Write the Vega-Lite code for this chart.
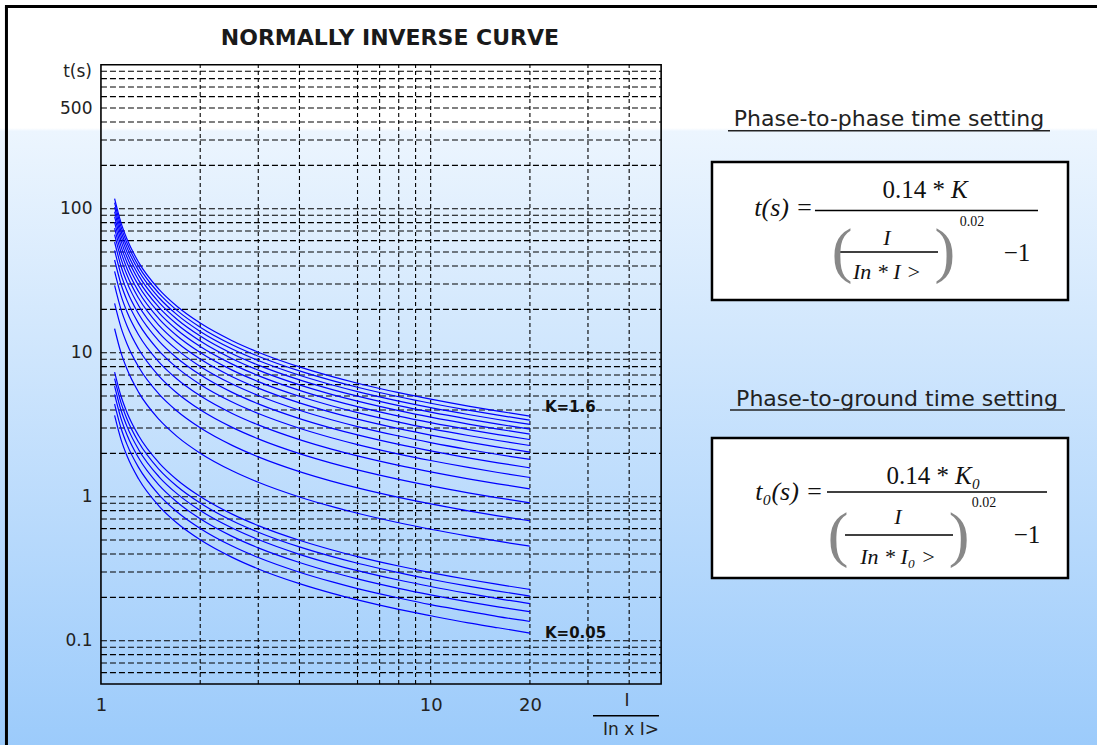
{
"$schema": "https://vega.github.io/schema/vega-lite/v6.json",
"width": 1097, "height": 745,
"autosize": {"type": "none"},
"padding": 0,
"background": "#ffffff",
"config": {"view": {"stroke": null, "fill": {"gradient": "linear", "x1": 0, "y1": 0, "x2": 0, "y2": 1, "stops": [{"offset": 0, "color": "#ffffff"}, {"offset": 0.172, "color": "#ffffff"}, {"offset": 0.176, "color": "#ecf5fe"}, {"offset": 1, "color": "#9ccbfb"}]}}},
"datasets": {
"curves": [
{"K":1.6,"I":1.1,"t":117.4},{"K":1.6,"I":1.15,"t":80.02},{"K":1.6,"I":1.2,"t":61.32},{"K":1.6,"I":1.3,"t":42.58},{"K":1.6,"I":1.5,"t":27.51},{"K":1.6,"I":1.7,"t":21.0},{"K":1.6,"I":2,"t":16.05},{"K":1.6,"I":2.5,"t":12.11},{"K":1.6,"I":3,"t":10.08},{"K":1.6,"I":4,"t":7.968},{"K":1.6,"I":5,"t":6.848},{"K":1.6,"I":6,"t":6.139},{"K":1.6,"I":8,"t":5.275},{"K":1.6,"I":10,"t":4.754},{"K":1.6,"I":13,"t":4.256},{"K":1.6,"I":16,"t":3.928},{"K":1.6,"I":20,"t":3.628},
{"K":1.5,"I":1.1,"t":110.1},{"K":1.5,"I":1.15,"t":75.02},{"K":1.5,"I":1.2,"t":57.49},{"K":1.5,"I":1.3,"t":39.92},{"K":1.5,"I":1.5,"t":25.79},{"K":1.5,"I":1.7,"t":19.68},{"K":1.5,"I":2,"t":15.04},{"K":1.5,"I":2.5,"t":11.36},{"K":1.5,"I":3,"t":9.453},{"K":1.5,"I":4,"t":7.47},{"K":1.5,"I":5,"t":6.42},{"K":1.5,"I":6,"t":5.756},{"K":1.5,"I":8,"t":4.946},{"K":1.5,"I":10,"t":4.457},{"K":1.5,"I":13,"t":3.99},{"K":1.5,"I":16,"t":3.683},{"K":1.5,"I":20,"t":3.401},
{"K":1.4,"I":1.1,"t":102.7},{"K":1.4,"I":1.15,"t":70.01},{"K":1.4,"I":1.2,"t":53.65},{"K":1.4,"I":1.3,"t":37.25},{"K":1.4,"I":1.5,"t":24.07},{"K":1.4,"I":1.7,"t":18.37},{"K":1.4,"I":2,"t":14.04},{"K":1.4,"I":2.5,"t":10.6},{"K":1.4,"I":3,"t":8.823},{"K":1.4,"I":4,"t":6.972},{"K":1.4,"I":5,"t":5.992},{"K":1.4,"I":6,"t":5.372},{"K":1.4,"I":8,"t":4.616},{"K":1.4,"I":10,"t":4.159},{"K":1.4,"I":13,"t":3.724},{"K":1.4,"I":16,"t":3.437},{"K":1.4,"I":20,"t":3.174},
{"K":1.3,"I":1.1,"t":95.38},{"K":1.3,"I":1.15,"t":65.01},{"K":1.3,"I":1.2,"t":49.82},{"K":1.3,"I":1.3,"t":34.59},{"K":1.3,"I":1.5,"t":22.35},{"K":1.3,"I":1.7,"t":17.06},{"K":1.3,"I":2,"t":13.04},{"K":1.3,"I":2.5,"t":9.841},{"K":1.3,"I":3,"t":8.193},{"K":1.3,"I":4,"t":6.474},{"K":1.3,"I":5,"t":5.564},{"K":1.3,"I":6,"t":4.988},{"K":1.3,"I":8,"t":4.286},{"K":1.3,"I":10,"t":3.862},{"K":1.3,"I":13,"t":3.458},{"K":1.3,"I":16,"t":3.192},{"K":1.3,"I":20,"t":2.947},
{"K":1.2,"I":1.1,"t":88.04},{"K":1.2,"I":1.15,"t":60.01},{"K":1.2,"I":1.2,"t":45.98},{"K":1.2,"I":1.3,"t":31.93},{"K":1.2,"I":1.5,"t":20.63},{"K":1.2,"I":1.7,"t":15.74},{"K":1.2,"I":2,"t":12.04},{"K":1.2,"I":2.5,"t":9.084},{"K":1.2,"I":3,"t":7.562},{"K":1.2,"I":4,"t":5.976},{"K":1.2,"I":5,"t":5.136},{"K":1.2,"I":6,"t":4.604},{"K":1.2,"I":8,"t":3.956},{"K":1.2,"I":10,"t":3.565},{"K":1.2,"I":13,"t":3.192},{"K":1.2,"I":16,"t":2.946},{"K":1.2,"I":20,"t":2.72},
{"K":1.1,"I":1.1,"t":80.71},{"K":1.1,"I":1.15,"t":55.01},{"K":1.1,"I":1.2,"t":42.15},{"K":1.1,"I":1.3,"t":29.27},{"K":1.1,"I":1.5,"t":18.91},{"K":1.1,"I":1.7,"t":14.43},{"K":1.1,"I":2,"t":11.03},{"K":1.1,"I":2.5,"t":8.327},{"K":1.1,"I":3,"t":6.932},{"K":1.1,"I":4,"t":5.478},{"K":1.1,"I":5,"t":4.708},{"K":1.1,"I":6,"t":4.221},{"K":1.1,"I":8,"t":3.627},{"K":1.1,"I":10,"t":3.268},{"K":1.1,"I":13,"t":2.926},{"K":1.1,"I":16,"t":2.701},{"K":1.1,"I":20,"t":2.494},
{"K":1.0,"I":1.1,"t":73.37},{"K":1.0,"I":1.15,"t":50.01},{"K":1.0,"I":1.2,"t":38.32},{"K":1.0,"I":1.3,"t":26.61},{"K":1.0,"I":1.5,"t":17.19},{"K":1.0,"I":1.7,"t":13.12},{"K":1.0,"I":2,"t":10.03},{"K":1.0,"I":2.5,"t":7.57},{"K":1.0,"I":3,"t":6.302},{"K":1.0,"I":4,"t":4.98},{"K":1.0,"I":5,"t":4.28},{"K":1.0,"I":6,"t":3.837},{"K":1.0,"I":8,"t":3.297},{"K":1.0,"I":10,"t":2.971},{"K":1.0,"I":13,"t":2.66},{"K":1.0,"I":16,"t":2.455},{"K":1.0,"I":20,"t":2.267},
{"K":0.9,"I":1.1,"t":66.03},{"K":0.9,"I":1.15,"t":45.01},{"K":0.9,"I":1.2,"t":34.49},{"K":0.9,"I":1.3,"t":23.95},{"K":0.9,"I":1.5,"t":15.47},{"K":0.9,"I":1.7,"t":11.81},{"K":0.9,"I":2,"t":9.027},{"K":0.9,"I":2.5,"t":6.813},{"K":0.9,"I":3,"t":5.672},{"K":0.9,"I":4,"t":4.482},{"K":0.9,"I":5,"t":3.852},{"K":0.9,"I":6,"t":3.453},{"K":0.9,"I":8,"t":2.967},{"K":0.9,"I":10,"t":2.674},{"K":0.9,"I":13,"t":2.394},{"K":0.9,"I":16,"t":2.21},{"K":0.9,"I":20,"t":2.04},
{"K":0.8,"I":1.1,"t":58.7},{"K":0.8,"I":1.15,"t":40.01},{"K":0.8,"I":1.2,"t":30.66},{"K":0.8,"I":1.3,"t":21.29},{"K":0.8,"I":1.5,"t":13.75},{"K":0.8,"I":1.7,"t":10.5},{"K":0.8,"I":2,"t":8.024},{"K":0.8,"I":2.5,"t":6.056},{"K":0.8,"I":3,"t":5.042},{"K":0.8,"I":4,"t":3.984},{"K":0.8,"I":5,"t":3.424},{"K":0.8,"I":6,"t":3.07},{"K":0.8,"I":8,"t":2.638},{"K":0.8,"I":10,"t":2.377},{"K":0.8,"I":13,"t":2.128},{"K":0.8,"I":16,"t":1.964},{"K":0.8,"I":20,"t":1.814},
{"K":0.7,"I":1.1,"t":51.36},{"K":0.7,"I":1.15,"t":35.01},{"K":0.7,"I":1.2,"t":26.82},{"K":0.7,"I":1.3,"t":18.63},{"K":0.7,"I":1.5,"t":12.03},{"K":0.7,"I":1.7,"t":9.184},{"K":0.7,"I":2,"t":7.021},{"K":0.7,"I":2.5,"t":5.299},{"K":0.7,"I":3,"t":4.411},{"K":0.7,"I":4,"t":3.486},{"K":0.7,"I":5,"t":2.996},{"K":0.7,"I":6,"t":2.686},{"K":0.7,"I":8,"t":2.308},{"K":0.7,"I":10,"t":2.08},{"K":0.7,"I":13,"t":1.862},{"K":0.7,"I":16,"t":1.719},{"K":0.7,"I":20,"t":1.587},
{"K":0.6,"I":1.1,"t":44.02},{"K":0.6,"I":1.15,"t":30.01},{"K":0.6,"I":1.2,"t":22.99},{"K":0.6,"I":1.3,"t":15.97},{"K":0.6,"I":1.5,"t":10.31},{"K":0.6,"I":1.7,"t":7.872},{"K":0.6,"I":2,"t":6.018},{"K":0.6,"I":2.5,"t":4.542},{"K":0.6,"I":3,"t":3.781},{"K":0.6,"I":4,"t":2.988},{"K":0.6,"I":5,"t":2.568},{"K":0.6,"I":6,"t":2.302},{"K":0.6,"I":8,"t":1.978},{"K":0.6,"I":10,"t":1.783},{"K":0.6,"I":13,"t":1.596},{"K":0.6,"I":16,"t":1.473},{"K":0.6,"I":20,"t":1.36},
{"K":0.5,"I":1.1,"t":36.69},{"K":0.5,"I":1.15,"t":25.01},{"K":0.5,"I":1.2,"t":19.16},{"K":0.5,"I":1.3,"t":13.31},{"K":0.5,"I":1.5,"t":8.595},{"K":0.5,"I":1.7,"t":6.56},{"K":0.5,"I":2,"t":5.015},{"K":0.5,"I":2.5,"t":3.785},{"K":0.5,"I":3,"t":3.151},{"K":0.5,"I":4,"t":2.49},{"K":0.5,"I":5,"t":2.14},{"K":0.5,"I":6,"t":1.919},{"K":0.5,"I":8,"t":1.649},{"K":0.5,"I":10,"t":1.486},{"K":0.5,"I":13,"t":1.33},{"K":0.5,"I":16,"t":1.228},{"K":0.5,"I":20,"t":1.134},
{"K":0.4,"I":1.1,"t":29.35},{"K":0.4,"I":1.15,"t":20.0},{"K":0.4,"I":1.2,"t":15.33},{"K":0.4,"I":1.3,"t":10.64},{"K":0.4,"I":1.5,"t":6.876},{"K":0.4,"I":1.7,"t":5.248},{"K":0.4,"I":2,"t":4.012},{"K":0.4,"I":2.5,"t":3.028},{"K":0.4,"I":3,"t":2.521},{"K":0.4,"I":4,"t":1.992},{"K":0.4,"I":5,"t":1.712},{"K":0.4,"I":6,"t":1.535},{"K":0.4,"I":8,"t":1.319},{"K":0.4,"I":10,"t":1.188},{"K":0.4,"I":13,"t":1.064},{"K":0.4,"I":16,"t":0.982},{"K":0.4,"I":20,"t":0.907},
{"K":0.3,"I":1.1,"t":22.01},{"K":0.3,"I":1.15,"t":15.0},{"K":0.3,"I":1.2,"t":11.5},{"K":0.3,"I":1.3,"t":7.983},{"K":0.3,"I":1.5,"t":5.157},{"K":0.3,"I":1.7,"t":3.936},{"K":0.3,"I":2,"t":3.009},{"K":0.3,"I":2.5,"t":2.271},{"K":0.3,"I":3,"t":1.891},{"K":0.3,"I":4,"t":1.494},{"K":0.3,"I":5,"t":1.284},{"K":0.3,"I":6,"t":1.151},{"K":0.3,"I":8,"t":0.989},{"K":0.3,"I":10,"t":0.891},{"K":0.3,"I":13,"t":0.798},{"K":0.3,"I":16,"t":0.737},{"K":0.3,"I":20,"t":0.68},
{"K":0.2,"I":1.1,"t":14.67},{"K":0.2,"I":1.15,"t":10.0},{"K":0.2,"I":1.2,"t":7.664},{"K":0.2,"I":1.3,"t":5.322},{"K":0.2,"I":1.5,"t":3.438},{"K":0.2,"I":1.7,"t":2.624},{"K":0.2,"I":2,"t":2.006},{"K":0.2,"I":2.5,"t":1.514},{"K":0.2,"I":3,"t":1.26},{"K":0.2,"I":4,"t":0.996},{"K":0.2,"I":5,"t":0.856},{"K":0.2,"I":6,"t":0.767},{"K":0.2,"I":8,"t":0.659},{"K":0.2,"I":10,"t":0.594},{"K":0.2,"I":13,"t":0.532},{"K":0.2,"I":16,"t":0.491},{"K":0.2,"I":20,"t":0.453},
{"K":0.1,"I":1.1,"t":7.337},{"K":0.1,"I":1.15,"t":5.001},{"K":0.1,"I":1.2,"t":3.832},{"K":0.1,"I":1.3,"t":2.661},{"K":0.1,"I":1.5,"t":1.719},{"K":0.1,"I":1.7,"t":1.312},{"K":0.1,"I":2,"t":1.003},{"K":0.1,"I":2.5,"t":0.757},{"K":0.1,"I":3,"t":0.63},{"K":0.1,"I":4,"t":0.498},{"K":0.1,"I":5,"t":0.428},{"K":0.1,"I":6,"t":0.384},{"K":0.1,"I":8,"t":0.33},{"K":0.1,"I":10,"t":0.297},{"K":0.1,"I":13,"t":0.266},{"K":0.1,"I":16,"t":0.246},{"K":0.1,"I":20,"t":0.227},
{"K":0.09,"I":1.1,"t":6.603},{"K":0.09,"I":1.15,"t":4.501},{"K":0.09,"I":1.2,"t":3.449},{"K":0.09,"I":1.3,"t":2.395},{"K":0.09,"I":1.5,"t":1.547},{"K":0.09,"I":1.7,"t":1.181},{"K":0.09,"I":2,"t":0.903},{"K":0.09,"I":2.5,"t":0.681},{"K":0.09,"I":3,"t":0.567},{"K":0.09,"I":4,"t":0.448},{"K":0.09,"I":5,"t":0.385},{"K":0.09,"I":6,"t":0.345},{"K":0.09,"I":8,"t":0.297},{"K":0.09,"I":10,"t":0.267},{"K":0.09,"I":13,"t":0.239},{"K":0.09,"I":16,"t":0.221},{"K":0.09,"I":20,"t":0.204},
{"K":0.08,"I":1.1,"t":5.87},{"K":0.08,"I":1.15,"t":4.001},{"K":0.08,"I":1.2,"t":3.066},{"K":0.08,"I":1.3,"t":2.129},{"K":0.08,"I":1.5,"t":1.375},{"K":0.08,"I":1.7,"t":1.05},{"K":0.08,"I":2,"t":0.802},{"K":0.08,"I":2.5,"t":0.606},{"K":0.08,"I":3,"t":0.504},{"K":0.08,"I":4,"t":0.398},{"K":0.08,"I":5,"t":0.342},{"K":0.08,"I":6,"t":0.307},{"K":0.08,"I":8,"t":0.264},{"K":0.08,"I":10,"t":0.238},{"K":0.08,"I":13,"t":0.213},{"K":0.08,"I":16,"t":0.196},{"K":0.08,"I":20,"t":0.181},
{"K":0.07,"I":1.1,"t":5.136},{"K":0.07,"I":1.15,"t":3.501},{"K":0.07,"I":1.2,"t":2.682},{"K":0.07,"I":1.3,"t":1.863},{"K":0.07,"I":1.5,"t":1.203},{"K":0.07,"I":1.7,"t":0.918},{"K":0.07,"I":2,"t":0.702},{"K":0.07,"I":2.5,"t":0.53},{"K":0.07,"I":3,"t":0.441},{"K":0.07,"I":4,"t":0.349},{"K":0.07,"I":5,"t":0.3},{"K":0.07,"I":6,"t":0.269},{"K":0.07,"I":8,"t":0.231},{"K":0.07,"I":10,"t":0.208},{"K":0.07,"I":13,"t":0.186},{"K":0.07,"I":16,"t":0.172},{"K":0.07,"I":20,"t":0.159},
{"K":0.06,"I":1.1,"t":4.402},{"K":0.06,"I":1.15,"t":3.001},{"K":0.06,"I":1.2,"t":2.299},{"K":0.06,"I":1.3,"t":1.597},{"K":0.06,"I":1.5,"t":1.031},{"K":0.06,"I":1.7,"t":0.787},{"K":0.06,"I":2,"t":0.602},{"K":0.06,"I":2.5,"t":0.454},{"K":0.06,"I":3,"t":0.378},{"K":0.06,"I":4,"t":0.299},{"K":0.06,"I":5,"t":0.257},{"K":0.06,"I":6,"t":0.23},{"K":0.06,"I":8,"t":0.198},{"K":0.06,"I":10,"t":0.178},{"K":0.06,"I":13,"t":0.16},{"K":0.06,"I":16,"t":0.147},{"K":0.06,"I":20,"t":0.136},
{"K":0.05,"I":1.1,"t":3.669},{"K":0.05,"I":1.15,"t":2.501},{"K":0.05,"I":1.2,"t":1.916},{"K":0.05,"I":1.3,"t":1.331},{"K":0.05,"I":1.5,"t":0.86},{"K":0.05,"I":1.7,"t":0.656},{"K":0.05,"I":2,"t":0.502},{"K":0.05,"I":2.5,"t":0.379},{"K":0.05,"I":3,"t":0.315},{"K":0.05,"I":4,"t":0.249},{"K":0.05,"I":5,"t":0.214},{"K":0.05,"I":6,"t":0.192},{"K":0.05,"I":8,"t":0.165},{"K":0.05,"I":10,"t":0.149},{"K":0.05,"I":13,"t":0.133},{"K":0.05,"I":16,"t":0.123},{"K":0.05,"I":20,"t":0.113}
],
"vgrid": [{"v":2},{"v":3},{"v":4},{"v":6},{"v":7},{"v":8},{"v":9},{"v":10},{"v":20},{"v":30},{"v":40}],
"hgrid": [{"v":0.06},{"v":0.07},{"v":0.08},{"v":0.09},{"v":0.1},{"v":0.2},{"v":0.3},{"v":0.4},{"v":0.5},{"v":0.6},{"v":0.7},{"v":0.8},{"v":0.9},{"v":1},{"v":2},{"v":3},{"v":4},{"v":5},{"v":6},{"v":7},{"v":8},{"v":9},{"v":10},{"v":20},{"v":30},{"v":40},{"v":50},{"v":60},{"v":70},{"v":80},{"v":90},{"v":100},{"v":200},{"v":300},{"v":400},{"v":500},{"v":600},{"v":700},{"v":800},{"v":900}],
"klabels": [{"x":22.22,"y":4.197,"label":"K=1.6"},{"x":22.22,"y":0.1131,"label":"K=0.05"}],
"boxes": [{"x":71.32,"x2":857.0,"y":211.0,"y2":23.23},{"x":71.32,"x2":857.0,"y":2.556,"y2":0.2725}],
"underlines": [{"x":79.75,"x2":755.7,"y":348.0},{"x":80.87,"x2":839.1,"y":4.0}],
"headers": [{"x":245.5,"y":419.6,"label":"Phase-to-phase time setting"},{"x":259.7,"y":4.77,"label":"Phase-to-ground time setting"}],
"bars": [{"x":146.4,"x2":695.0,"y":97.16},{"x":171.9,"x2":345.7,"y":50.05},{"x":159.2,"x2":740.3,"y":1.078},{"x":180.6,"x2":383.9,"y":0.542},{"x":31.07,"x2":49.25,"y":0.03014}],
"lhs": [{"x":144.4,"y":101.1,"label":"t(s) ="},{"x":154.8,"y":1.078,"label":"t₀(s) ="}],
"numer": [{"x":362.9,"y":134.8,"label":"0.14 *"},{"x":373.3,"y":1.392,"label":"0.14 *"}],
"numerk": [{"x":378.6,"y":134.8,"label":"K"},{"x":389.3,"y":1.392,"label":"K₀"}],
"denom": [{"x":242.1,"y":62.59,"label":"I"},{"x":242.1,"y":36.35,"label":"In * I >"},{"x":261.5,"y":0.723,"label":"I"},{"x":261.5,"y":0.3814,"label":"In * I₀ >"}],
"parens": [{"x":176.8,"y":50.05,"label":"("},{"x":362.9,"y":50.05,"label":")"},{"x":171.9,"y":0.5333,"label":"("},{"x":400.4,"y":0.5333,"label":")"}],
"expo": [{"x":438.4,"y":80.83,"label":"0.02"},{"x":476.9,"y":0.9042,"label":"0.02"}],
"minus": [{"x":600.2,"y":49.25,"label":"−1"},{"x":643.5,"y":0.542,"label":"−1"}],
"xtitle": [{"x":39.39,"y":0.03814,"label":"I"},{"x":40.51,"y":0.02398,"label":"In x I>"}],
"ytitle": [{"x":0.9391,"y":890.0,"label":"t(s)"}],
"title": [{"x":7.525,"y":1532,"label":"NORMALLY INVERSE CURVE"}]
},
"layer": [
{"data":{"name":"hgrid"},"mark":{"type":"rule","color":"#000000","strokeWidth":1.1,"strokeDash":[6,3]},
 "encoding":{"y":{"field":"v","type":"quantitative","scale":{"type":"log","domain":[0.018869,2813],"nice":false,"zero":false}},
  "x":{"datum":1,"type":"quantitative","scale":{"type":"log","domain":[0.4941,1049.4],"nice":false,"zero":false}},"x2":{"datum":50}}},
{"data":{"name":"vgrid"},"mark":{"type":"rule","color":"#000000","strokeWidth":1.1,"strokeDash":[4,3]},
 "encoding":{"x":{"field":"v","type":"quantitative","scale":{"type":"log","domain":[0.4941,1049.4],"nice":false,"zero":false}},
  "y":{"datum":0.05,"type":"quantitative","scale":{"type":"log","domain":[0.018869,2813],"nice":false,"zero":false}},"y2":{"datum":1000}}},
{"data":{"values":[{}]},"mark":{"type":"rect","filled":false,"color":"#000000","strokeWidth":1.6},
 "encoding":{"x":{"datum":1,"type":"quantitative","scale":{"type":"log","domain":[0.4941,1049.4],"nice":false,"zero":false}},"x2":{"datum":50},
  "y":{"datum":0.05,"type":"quantitative","scale":{"type":"log","domain":[0.018869,2813],"nice":false,"zero":false}},"y2":{"datum":1000}}},
{"data":{"values":[{}]},"mark":{"type":"rule","color":"#000000","strokeWidth":3},
 "encoding":{"x":{"datum":0.5115,"type":"quantitative","scale":{"type":"log","domain":[0.4941,1049.4],"nice":false,"zero":false}},"x2":{"datum":1049.4},
  "y":{"datum":2536,"type":"quantitative","scale":{"type":"log","domain":[0.018869,2813],"nice":false,"zero":false}}}},
{"data":{"values":[{}]},"mark":{"type":"rule","color":"#000000","strokeWidth":3},
 "encoding":{"x":{"datum":0.5169,"type":"quantitative","scale":{"type":"log","domain":[0.4941,1049.4],"nice":false,"zero":false}},
  "y":{"datum":0.018869,"type":"quantitative","scale":{"type":"log","domain":[0.018869,2813],"nice":false,"zero":false}},"y2":{"datum":2536}}},
{"data":{"name":"curves"},"mark":{"type":"line","color":"#0000ff","strokeWidth":1.2,"interpolate":"monotone"},
 "encoding":{
  "x":{"field":"I","type":"quantitative","scale":{"type":"log","domain":[0.4941,1049.4],"nice":false,"zero":false},
   "axis":{"values":[1,10,20],"orient":"bottom","offset":-60,"domain":false,"ticks":false,"grid":false,"title":null,"labelPadding":11,"labelFontSize":18,"labelFont":"DejaVu Sans","labelColor":"#222222","labelFlush":false,"labelOverlap":false,"labelBound":false,"format":"~g"}},
  "y":{"field":"t","type":"quantitative","scale":{"type":"log","domain":[0.018869,2813],"nice":false,"zero":false},
   "axis":{"values":[0.1,1,10,100,500],"orient":"left","offset":-101,"domain":false,"ticks":false,"grid":false,"title":null,"labelPadding":9,"labelFontSize":17,"labelFont":"DejaVu Sans","labelColor":"#222222","labelOverlap":false,"labelBound":false,"format":"~g"}},
  "detail":{"field":"K","type":"nominal"}}},
{"data":{"name":"klabels"},"mark":{"type":"text","align":"left","baseline":"middle","font":"DejaVu Sans","fontWeight":"bold","fontSize":15,"color":"#111111"},
 "encoding":{"x":{"field":"x","type":"quantitative","scale":{"type":"log","domain":[0.4941,1049.4],"nice":false,"zero":false}},
  "y":{"field":"y","type":"quantitative","scale":{"type":"log","domain":[0.018869,2813],"nice":false,"zero":false}},"text":{"field":"label"}}},
{"data":{"name":"ytitle"},"mark":{"type":"text","align":"right","baseline":"middle","font":"DejaVu Sans","fontSize":17,"color":"#222222"},
 "encoding":{"x":{"field":"x","type":"quantitative","scale":{"type":"log","domain":[0.4941,1049.4],"nice":false,"zero":false}},
  "y":{"field":"y","type":"quantitative","scale":{"type":"log","domain":[0.018869,2813],"nice":false,"zero":false}},"text":{"field":"label"}}},
{"data":{"name":"xtitle"},"mark":{"type":"text","align":"center","baseline":"middle","font":"DejaVu Sans","fontSize":17,"color":"#222222"},
 "encoding":{"x":{"field":"x","type":"quantitative","scale":{"type":"log","domain":[0.4941,1049.4],"nice":false,"zero":false}},
  "y":{"field":"y","type":"quantitative","scale":{"type":"log","domain":[0.018869,2813],"nice":false,"zero":false}},"text":{"field":"label"}}},
{"data":{"name":"title"},"mark":{"type":"text","align":"center","baseline":"middle","font":"DejaVu Sans","fontWeight":"bold","fontSize":22,"color":"#1a1a1a"},
 "encoding":{"x":{"field":"x","type":"quantitative","scale":{"type":"log","domain":[0.4941,1049.4],"nice":false,"zero":false}},
  "y":{"field":"y","type":"quantitative","scale":{"type":"log","domain":[0.018869,2813],"nice":false,"zero":false}},"text":{"field":"label"}}},
{"data":{"name":"headers"},"mark":{"type":"text","align":"center","baseline":"middle","font":"DejaVu Sans","fontSize":22,"color":"#222222"},
 "encoding":{"x":{"field":"x","type":"quantitative","scale":{"type":"log","domain":[0.4941,1049.4],"nice":false,"zero":false}},
  "y":{"field":"y","type":"quantitative","scale":{"type":"log","domain":[0.018869,2813],"nice":false,"zero":false}},"text":{"field":"label"}}},
{"data":{"name":"underlines"},"mark":{"type":"rule","color":"#222222","strokeWidth":1.5},
 "encoding":{"x":{"field":"x","type":"quantitative","scale":{"type":"log","domain":[0.4941,1049.4],"nice":false,"zero":false}},"x2":{"field":"x2"},
  "y":{"field":"y","type":"quantitative","scale":{"type":"log","domain":[0.018869,2813],"nice":false,"zero":false}}}},
{"data":{"name":"boxes"},"mark":{"type":"rect","fill":"#ffffff","stroke":"#000000","strokeWidth":2.5},
 "encoding":{"x":{"field":"x","type":"quantitative","scale":{"type":"log","domain":[0.4941,1049.4],"nice":false,"zero":false}},"x2":{"field":"x2"},
  "y":{"field":"y","type":"quantitative","scale":{"type":"log","domain":[0.018869,2813],"nice":false,"zero":false}},"y2":{"field":"y2"}}},
{"data":{"name":"bars"},"mark":{"type":"rule","color":"#000000","strokeWidth":1.5},
 "encoding":{"x":{"field":"x","type":"quantitative","scale":{"type":"log","domain":[0.4941,1049.4],"nice":false,"zero":false}},"x2":{"field":"x2"},
  "y":{"field":"y","type":"quantitative","scale":{"type":"log","domain":[0.018869,2813],"nice":false,"zero":false}}}},
{"data":{"name":"lhs"},"mark":{"type":"text","align":"right","baseline":"middle","font":"Liberation Serif","fontStyle":"italic","fontSize":26,"color":"#111111"},
 "encoding":{"x":{"field":"x","type":"quantitative","scale":{"type":"log","domain":[0.4941,1049.4],"nice":false,"zero":false}},
  "y":{"field":"y","type":"quantitative","scale":{"type":"log","domain":[0.018869,2813],"nice":false,"zero":false}},"text":{"field":"label"}}},
{"data":{"name":"numer"},"mark":{"type":"text","align":"right","baseline":"middle","font":"Liberation Serif","fontSize":25,"color":"#111111"},
 "encoding":{"x":{"field":"x","type":"quantitative","scale":{"type":"log","domain":[0.4941,1049.4],"nice":false,"zero":false}},
  "y":{"field":"y","type":"quantitative","scale":{"type":"log","domain":[0.018869,2813],"nice":false,"zero":false}},"text":{"field":"label"}}},
{"data":{"name":"numerk"},"mark":{"type":"text","align":"left","baseline":"middle","font":"Liberation Serif","fontStyle":"italic","fontSize":25,"color":"#111111"},
 "encoding":{"x":{"field":"x","type":"quantitative","scale":{"type":"log","domain":[0.4941,1049.4],"nice":false,"zero":false}},
  "y":{"field":"y","type":"quantitative","scale":{"type":"log","domain":[0.018869,2813],"nice":false,"zero":false}},"text":{"field":"label"}}},
{"data":{"name":"denom"},"mark":{"type":"text","align":"center","baseline":"middle","font":"Liberation Serif","fontStyle":"italic","fontSize":22,"color":"#111111"},
 "encoding":{"x":{"field":"x","type":"quantitative","scale":{"type":"log","domain":[0.4941,1049.4],"nice":false,"zero":false}},
  "y":{"field":"y","type":"quantitative","scale":{"type":"log","domain":[0.018869,2813],"nice":false,"zero":false}},"text":{"field":"label"}}},
{"data":{"name":"parens"},"mark":{"type":"text","align":"center","baseline":"middle","font":"Liberation Serif","fontSize":62,"color":"#888888"},
 "encoding":{"x":{"field":"x","type":"quantitative","scale":{"type":"log","domain":[0.4941,1049.4],"nice":false,"zero":false}},
  "y":{"field":"y","type":"quantitative","scale":{"type":"log","domain":[0.018869,2813],"nice":false,"zero":false}},"text":{"field":"label"}}},
{"data":{"name":"expo"},"mark":{"type":"text","align":"center","baseline":"middle","font":"Liberation Serif","fontSize":14,"color":"#111111"},
 "encoding":{"x":{"field":"x","type":"quantitative","scale":{"type":"log","domain":[0.4941,1049.4],"nice":false,"zero":false}},
  "y":{"field":"y","type":"quantitative","scale":{"type":"log","domain":[0.018869,2813],"nice":false,"zero":false}},"text":{"field":"label"}}},
{"data":{"name":"minus"},"mark":{"type":"text","align":"center","baseline":"middle","font":"Liberation Serif","fontSize":25,"color":"#111111"},
 "encoding":{"x":{"field":"x","type":"quantitative","scale":{"type":"log","domain":[0.4941,1049.4],"nice":false,"zero":false}},
  "y":{"field":"y","type":"quantitative","scale":{"type":"log","domain":[0.018869,2813],"nice":false,"zero":false}},"text":{"field":"label"}}}
]
}
